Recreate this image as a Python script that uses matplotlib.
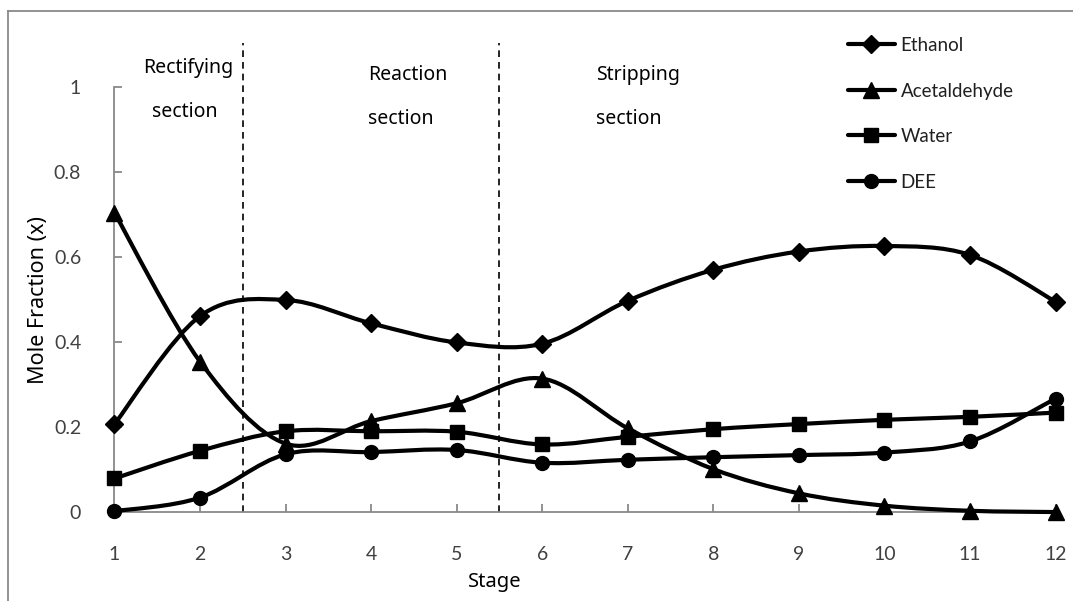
import numpy as np
import matplotlib
matplotlib.use("Agg")
import matplotlib.pyplot as plt
from matplotlib.path import Path
from matplotlib.patches import PathPatch
from matplotlib.lines import Line2D

# liquid composition profile along the column
stages = [1, 2, 3, 4, 5, 6, 7, 8, 9, 10, 11, 12]
ethanol = [0.208, 0.462, 0.500, 0.445, 0.400, 0.397, 0.498, 0.571, 0.614, 0.627, 0.606, 0.496]
acetaldehyde = [0.705, 0.355, 0.162, 0.215, 0.257, 0.315, 0.198, 0.102, 0.045, 0.016, 0.004, 0.001]
water = [0.080, 0.145, 0.191, 0.191, 0.190, 0.160, 0.178, 0.196, 0.208, 0.218, 0.225, 0.235]
dee = [0.003, 0.035, 0.137, 0.142, 0.147, 0.117, 0.124, 0.130, 0.135, 0.141, 0.167, 0.268]

series_names = ["Ethanol", "Acetaldehyde", "Water", "DEE"]
series_markers = ["D", "^", "s", "o"]
marker_sizes = [9, 12, 10, 10]

section_bounds = [2.5, 5.5]
# (first line, second line, x, horizontal alignment, y of first line, y of second line)
section_notes = [
    ("Rectifying", "section", 1.86, "center", 1.045, 0.943),
    ("Reaction", "section", 3.96, "left", 1.030, 0.925),
    ("Stripping", "section", 6.63, "left", 1.030, 0.925),
]

yticks = [0, 0.2, 0.4, 0.6, 0.8, 1]
ytick_labels = ["0", "0.2", "0.4", "0.6", "0.8", "1"]

AXIS_GREY = "#898989"
TICK_FONT = ["Lato", "DejaVu Sans"]
TITLE_FONT = ["Noto Sans", "DejaVu Sans"]


def smooth_path(x, y):
    """Bezier path through the points, spreadsheet-style smoothing."""
    pts = np.column_stack([x, y]).astype(float)
    n = len(pts)
    verts = [pts[0]]
    codes = [Path.MOVETO]
    for i in range(n - 1):
        p0 = pts[max(i - 1, 0)]
        p1 = pts[i]
        p2 = pts[i + 1]
        p3 = pts[min(i + 2, n - 1)]
        c1 = p1 + (p2 - p0) / 6.0
        c2 = p2 - (p3 - p1) / 6.0
        verts += [c1, c2, p2]
        codes += [Path.CURVE4] * 3
    return Path(verts, codes)


fig = plt.figure(figsize=(10.73, 6.01), dpi=100)
ax = fig.add_axes([0.1067, 0.1473, 0.877, 0.7072])

all_series = [ethanol, acetaldehyde, water, dee]
handles = []
for vals, name, mk, ms in zip(all_series, series_names, series_markers, marker_sizes):
    patch = PathPatch(smooth_path(stages, vals), facecolor="none", edgecolor="black",
                      lw=3.0, capstyle="round", joinstyle="round", clip_on=False, zorder=3)
    ax.add_patch(patch)
    ax.plot(stages, vals, ls="none", marker=mk, ms=ms, color="black",
            clip_on=False, zorder=4)
    handles.append(Line2D([0], [0], color="black", lw=3.0, marker=mk,
                          ms=ms, label=name, solid_capstyle="round"))

# section dividers
for xb in section_bounds:
    ax.plot([xb, xb], [0, 1.105], color="black", lw=1.2, ls=(0, (4, 3)),
            clip_on=False, zorder=2)

for line1, line2, sx, ha, y1, y2 in section_notes:
    ax.text(sx, y1, line1, ha=ha, va="center", fontsize=14, family=TITLE_FONT)
    ax.text(sx if ha == "left" else sx - 0.04, y2, line2, ha=ha, va="center",
            fontsize=14, family=TITLE_FONT)

ax.set_xlim(1, 12)
ax.set_ylim(0, 1)
ax.set_xticks(stages)
ax.set_xticklabels([str(s) for s in stages])
ax.set_yticks(yticks)
ax.set_yticklabels(ytick_labels)

for side in ["top", "right"]:
    ax.spines[side].set_visible(False)
for side in ["left", "bottom"]:
    ax.spines[side].set_color(AXIS_GREY)
    ax.spines[side].set_linewidth(1.3)

ax.tick_params(axis="both", direction="in", length=6, width=1.3, color=AXIS_GREY,
               labelsize=14, labelcolor="#404040")
ax.tick_params(axis="x", pad=24)
ax.tick_params(axis="y", pad=24)
for lab in ax.get_xticklabels() + ax.get_yticklabels():
    lab.set_family(TICK_FONT)

ax.set_xlabel("Stage", fontsize=14.5, family=TITLE_FONT)
ax.xaxis.set_label_coords(0.404, -0.141)
ax.set_ylabel("Mole Fraction (x)", fontsize=15.5, family=TITLE_FONT)
ax.yaxis.set_label_coords(-0.070, 0.5)

leg = ax.legend(handles=handles, loc="upper left", bbox_to_anchor=(848 / 1073, 1 - 37 / 601),
                bbox_transform=fig.transFigure, frameon=False, fontsize=13.5,
                handlelength=2.5, handletextpad=0.3, labelspacing=1.52,
                borderpad=0, borderaxespad=0)
for t in leg.get_texts():
    t.set_family(TICK_FONT)
    t.set_color("#202020")

# chart border (left and top edges)
fig.add_artist(Line2D([8 / 1073, 8 / 1073], [1 - 11 / 601, 0], transform=fig.transFigure,
                      color=AXIS_GREY, lw=1.3))
fig.add_artist(Line2D([8 / 1073, 1], [1 - 11 / 601, 1 - 11 / 601], transform=fig.transFigure,
                      color=AXIS_GREY, lw=1.3))

fig.savefig("out.png", dpi=100)
